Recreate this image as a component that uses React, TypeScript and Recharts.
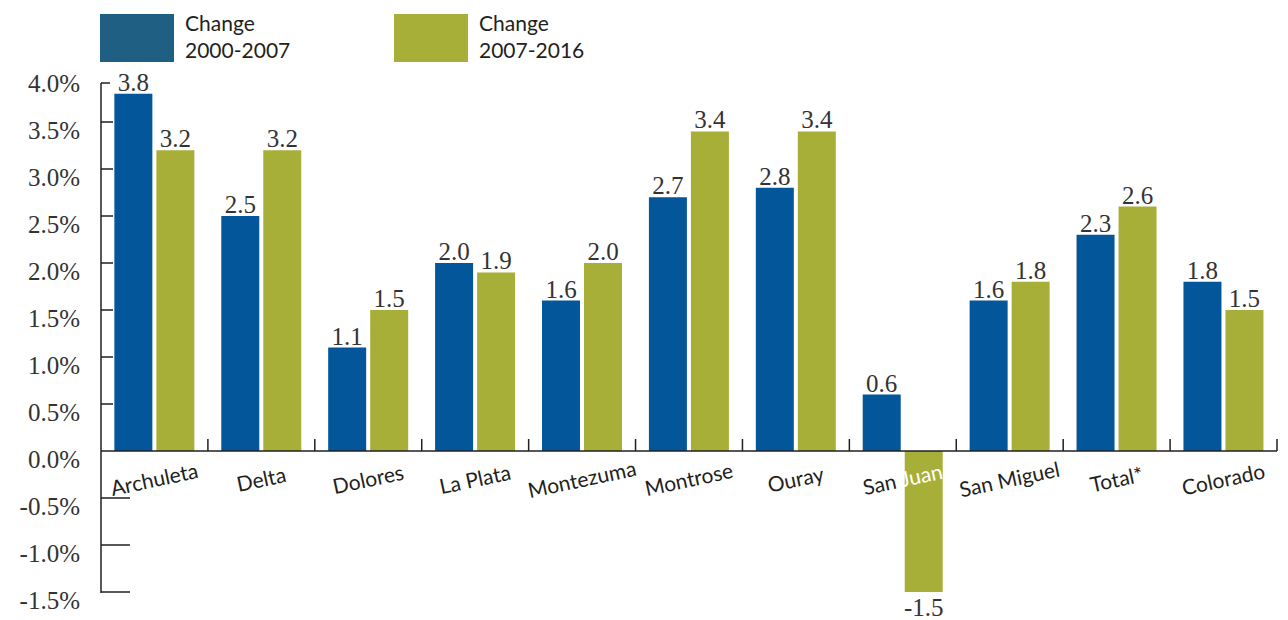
import React from "react";
import { BarChart, Bar, XAxis, YAxis, ReferenceLine, LabelList } from "recharts";

const categories = [
  "Archuleta",
  "Delta",
  "Dolores",
  "La Plata",
  "Montezuma",
  "Montrose",
  "Ouray",
  "San Juan",
  "San Miguel",
  "Total*",
  "Colorado",
];
const change2000to2007 = [3.8, 2.5, 1.1, 2.0, 1.6, 2.7, 2.8, 0.6, 1.6, 2.3, 1.8];
const change2007to2016 = [3.2, 3.2, 1.5, 1.9, 2.0, 3.4, 3.4, -1.5, 1.8, 2.6, 1.5];
const yTicks = [-1.5, -1, -0.5, 0, 0.5, 1, 1.5, 2, 2.5, 3, 3.5, 4];

const data = categories.map((name, i) => ({
  name,
  early: change2000to2007[i],
  late: change2007to2016[i],
}));

const BLUE = "#03569a";
const GREEN = "#a8af39";
const LEGEND_BLUE = "#1f5f84";
const INK = "#231f20";
const NUM = "#333333";
const SERIF = '"Liberation Serif", "Times New Roman", serif';
const SANS = 'Lato, "Open Sans", sans-serif';

const W = 1288;
const H = 620;
const TOP = 75;
const RIGHT = 11;
const Y_AXIS_W = 101;
const X_AXIS_H = 28;
const Y_MIN = -1.5;
const Y_MAX = 4;

// plot geometry, used to park the category labels on the zero line
const plotBottom = H - X_AXIS_H;
const plotHeight = plotBottom - TOP;
const band = (W - RIGHT - Y_AXIS_W) / categories.length;
const zeroY = plotBottom - (plotHeight * (0 - Y_MIN)) / (Y_MAX - Y_MIN);

function YTick(props: any) {
  const { x, y, payload } = props;
  const v = Number(payload.value);
  const isTop = v === Y_MAX;
  const ly = isTop ? y + 8 : y;
  const len = v < 0 ? 29 : isTop ? 9 : 12;
  return (
    <g>
      {isTop && (
        <line x1={x} x2={x} y1={ly} y2={plotBottom + 1} stroke={INK} strokeWidth={1.5} />
      )}
      {v !== 0 && (
        <line x1={x} x2={x + len} y1={ly} y2={ly} stroke={INK} strokeWidth={1.5} />
      )}
      <text
        x={x - 21}
        y={y}
        dy={17}
        textAnchor="end"
        fontFamily={SERIF}
        fontSize={25}
        fill={NUM}
      >
        {v.toFixed(1) + "%"}
      </text>
    </g>
  );
}

function XTick(props: any) {
  const { x, payload } = props;
  const name: string = payload.value;
  const bx = x + band / 2;
  const cy = zeroY + 29;
  return (
    <g>
      <line x1={bx} x2={bx} y1={zeroY - 12} y2={zeroY} stroke={INK} strokeWidth={1.5} />
      <text
        x={x}
        y={cy}
        dy={7}
        textAnchor="middle"
        transform={`rotate(-12 ${x} ${cy})`}
        fontFamily={SANS}
        fontSize={21}
        fill={INK}
      >
        {name === "San Juan" ? (
          <>
            <tspan>San </tspan>
            <tspan fill="#ffffff">Juan</tspan>
          </>
        ) : (
          name
        )}
      </text>
    </g>
  );
}

function ValueLabel(props: any) {
  const { x, y, width, height, value } = props;
  const v = Number(value);
  const top = Math.min(Number(y), Number(y) + Number(height));
  const bottom = Math.max(Number(y), Number(y) + Number(height));
  return (
    <text
      x={Number(x) + Number(width) / 2}
      y={v >= 0 ? top - 3 : bottom + 24}
      textAnchor="middle"
      fontFamily={SERIF}
      fontSize={25}
      fill={NUM}
    >
      {v.toFixed(1)}
    </text>
  );
}

function LegendItem({ left, color, lines }: { left: number; color: string; lines: string[] }) {
  return (
    <>
      <div
        style={{
          position: "absolute",
          left,
          top: 14,
          width: 74,
          height: 48,
          background: color,
        }}
      />
      <div
        style={{
          position: "absolute",
          left: left + 85,
          top: 9,
          fontFamily: SANS,
          fontSize: 21,
          lineHeight: "27px",
          color: INK,
        }}
      >
        {lines.map((l) => (
          <div key={l}>{l}</div>
        ))}
      </div>
    </>
  );
}

export default function App() {
  return (
    <div
      style={{
        position: "absolute",
        left: 0,
        top: 0,
        width: W,
        height: H,
        background: "#ffffff",
      }}
    >
      <LegendItem left={100} color={LEGEND_BLUE} lines={["Change", "2000-2007"]} />
      <LegendItem left={394} color={GREEN} lines={["Change", "2007-2016"]} />
      <BarChart
        width={W}
        height={H}
        data={data}
        margin={{ top: TOP, right: RIGHT, bottom: 0, left: 0 }}
        barCategoryGap="12.5%"
        barGap={4}
      >
        <YAxis
          width={Y_AXIS_W}
          domain={[Y_MIN, Y_MAX]}
          ticks={yTicks}
          interval={0}
          tickSize={0}
          tickMargin={0}
          tickLine={false}
          axisLine={false}
          tick={<YTick />}
        />
        <Bar dataKey="early" fill={BLUE} isAnimationActive={false}>
          <LabelList dataKey="early" content={<ValueLabel />} />
        </Bar>
        <Bar dataKey="late" fill={GREEN} isAnimationActive={false}>
          <LabelList dataKey="late" content={<ValueLabel />} />
        </Bar>
        <ReferenceLine y={0} stroke={INK} strokeWidth={1.5} />
        <XAxis
          dataKey="name"
          height={X_AXIS_H}
          interval={0}
          tickSize={0}
          tickMargin={0}
          tickLine={false}
          axisLine={false}
          tick={<XTick />}
        />
      </BarChart>
    </div>
  );
}
